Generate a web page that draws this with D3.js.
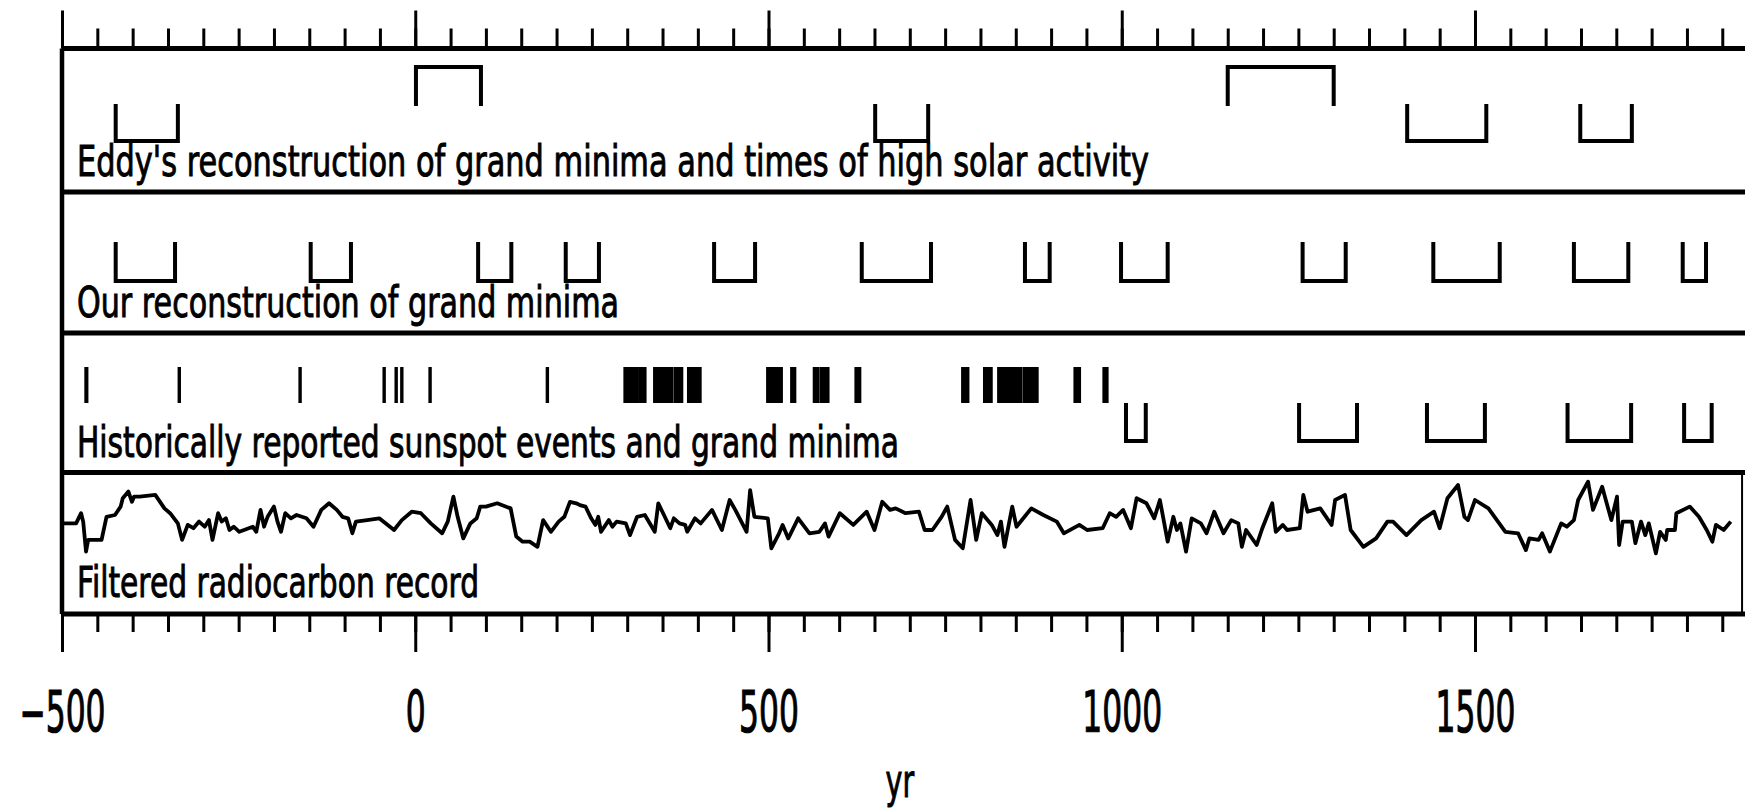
<!DOCTYPE html>
<html>
<head>
<meta charset="utf-8">
<script src="https://cdn.jsdelivr.net/npm/d3@7"></script>
<style>
  body { margin: 0; background: #fff; }
  svg { display: block; }
  text { font-family: "DejaVu Sans", sans-serif; fill: #000; }
</style>
</head>
<body>
<svg id="chart"></svg>
<script>
// Canvas size, same as the reference picture
const width = 1745;
const height = 810;

// ---- data (years) ----
// Eddy's grand minima (open upward) and times of high activity (open downward)
const eddyMinima = [[-424, -336], [651, 726], [1404, 1516], [1649, 1722]];
const eddyMaxima = [[1, 93], [1150, 1300]];

// Our reconstruction of grand minima
const ourMinima = [[-424, -340], [-148, -91], [89, 136], [213, 260], [423, 481], [632, 730],
  [863, 898], [999, 1065], [1256, 1317], [1441, 1535], [1640, 1717], [1794, 1827]];

// Historically reported sunspot events (year spans) and grand minima
const sunspotEvents = [[-466, -465], [-334, -334], [-163, -163], [-44, -44], [-27, -27], [-19, -19],
  [21, 21], [187, 187], [297, 314], [318, 325], [339, 363], [368, 377], [387, 403], [499, 518],
  [533, 537], [565, 566], [569, 570], [575, 584], [624, 629], [775, 778], [780, 782], [806, 808],
  [811, 815], [826, 848], [852, 857], [862, 872], [874, 880], [934, 940], [975, 979]];
const historicalMinima = [[1006, 1034], [1251, 1333], [1432, 1514], [1631, 1721], [1796, 1835]];

// Filtered radiocarbon record: [year, value] (arbitrary units)
const radiocarbon = [
  [-498,-2.8],[-480,-2.8],[-473,0.6],[-470,-2.2],[-466,-12.2],[-463,-8.3],[-444,-8.3],[-437,-0.6],
  [-425,0],[-417,2.8],[-414,5.6],[-406,7.8],[-401,4.4],[-398,6.1],[-390,6.1],[-368,6.7],[-355,2.2],
  [-347,0.6],[-336,-2.8],[-330,-8.3],[-322,-3.3],[-314,-4.4],[-306,-2.2],[-298,-3.9],[-292,-1.7],
  [-287,-8.3],[-279,0.6],[-274,-2.2],[-268,-1.1],[-263,-5],[-257,-3.9],[-249,-5.6],[-230,-3.9],
  [-225,-5.6],[-219,1.7],[-214,-3.9],[-209,-0.6],[-200,2.8],[-195,-2.2],[-190,-5.6],[-184,0.6],
  [-176,-1.1],[-168,0],[-154,-1.1],[-144,-3.9],[-133,1.7],[-122,3.9],[-111,1.7],[-103,-0.6],
  [-95,-1.1],[-89,-6.1],[-84,-2.2],[-68,-1.7],[-51,-1.1],[-30,-5],[-19,-1.7],[-5,1.1],[8,0.6],
  [22,-2.8],[38,-6.1],[46,-2.2],[54,6.1],[60,-0.6],[68,-7.8],[78,-2.8],[87,-1.1],[92,2.8],[100,2.8],
  [116,3.9],[135,2.2],[143,-7.2],[152,-8.9],[162,-8.9],[173,-10.6],[181,-1.7],[192,-5.6],[203,-2.2],
  [211,-0.6],[219,4.4],[228,3.9],[233,3.3],[241,2.8],[249,-1.1],[255,-3.3],[259,-0.6],[263,-5.6],
  [274,-1.7],[279,-3.9],[285,-2.2],[298,-2.8],[304,-6.7],[314,-0.6],[325,0],[339,-5.6],[344,3.9],
  [352,0],[361,-4.4],[366,-1.1],[374,-2.8],[382,-3.3],[385,-5.6],[396,-1.1],[404,-2.8],[420,1.7],
  [434,-5],[445,5],[453,1.7],[469,-5.6],[474,8.3],[480,-0.6],[499,-1.1],[504,-11.1],[515,-6.1],
  [520,-3.3],[528,-7.8],[542,-1.1],[558,-6.1],[572,-5.6],[580,-2.8],[585,-7.2],[601,0.6],[620,-3.3],
  [639,1.1],[650,-5],[661,4.4],[672,1.7],[680,2.2],[694,0.6],[713,1.1],[721,-5],[732,-5],[745,-0.6],
  [753,2.8],[764,-8.3],[775,-11.1],[786,5],[794,-8.3],[802,0.6],[816,-3.3],[824,-6.7],[829,-2.2],
  [834,-10.6],[845,2.8],[851,-3.9],[872,2.2],[889,0],[908,-2.2],[918,-6.1],[940,-3.3],[951,-5],
  [973,-4.4],[983,0.6],[992,-0.6],[1002,1.7],[1013,-4.4],[1021,5.6],[1035,3.9],[1046,-1.1],[1054,5],
  [1065,-8.9],[1073,-0.6],[1078,-5],[1083,-2.8],[1091,-12.2],[1099,-1.1],[1112,-2.8],[1120,-6.1],
  [1131,1.1],[1144,-6.1],[1155,-1.7],[1165,-2.8],[1170,-10.6],[1176,-5],[1191,-10],[1199,-4.4],
  [1213,3.9],[1218,-5.6],[1228,-3.3],[1234,-5],[1252,-4.4],[1257,6.7],[1263,1.1],[1281,2.2],
  [1297,-3.3],[1302,5],[1316,6.7],[1324,-5],[1342,-10.6],[1360,-7.8],[1376,-2.2],[1384,-2.2],
  [1403,-6.7],[1424,-1.7],[1442,1.1],[1450,-4.4],[1461,5.6],[1476,10],[1485,-0.6],[1490,-1.7],
  [1500,5],[1519,2.2],[1543,-5.6],[1561,-6.1],[1572,-11.7],[1577,-7.8],[1590,-8.3],[1595,-6.1],
  [1606,-12.2],[1622,-2.8],[1630,-3.9],[1640,-1.7],[1646,5],[1660,11.1],[1667,1.7],[1680,9.4],
  [1693,-1.7],[1701,6.1],[1704,-10],[1709,-2.2],[1722,-2.2],[1727,-9.4],[1735,-2.2],[1741,-6.7],
  [1746,-2.8],[1756,-12.8],[1762,-5.6],[1770,-8.3],[1772,-5],[1783,-5],[1785,0.6],[1804,2.8],
  [1817,-0.6],[1828,-5],[1836,-8.9],[1841,-3.3],[1852,-5],[1862,-2.2]
];
const recordEnd = 1878; // right frame of the radiocarbon panel

// Axis ticks
const majorTicks = [-500, 0, 500, 1000, 1500];
const minorTicks = d3.range(-500, 1901, 50);

// Panel labels
const panelLabels = [
  "Eddy's reconstruction of grand minima and times of high solar activity",
  "Our reconstruction of grand minima",
  "Historically reported sunspot events and grand minima",
  "Filtered radiocarbon record"
];
const labelWidths = [1072, 542, 822, 402];
const labelBaselines = [176, 317, 457, 597];

// Horizontal rules: top axis, panel separators, bottom axis
const rules = [48.5, 192, 333, 472.5, 614];

const svg = d3.select("#chart")
    .attr("width", width)
    .attr("height", height);

// Year scale
const x = d3.scaleLinear()
    .domain([-500, 1900])
    .range([62, 1757.6]);

// Radiocarbon value scale (inside the bottom panel)
const y = d3.scaleLinear()
    .domain([-32, 15])
    .range([611, 470]);

// Horizontal rules and left border
svg.selectAll(".rule")
    .data(rules)
    .enter()
    .append("line")
    .attr("class", "rule")
    .attr("x1", x(-500))
    .attr("x2", x(1900))
    .attr("y1", d => d)
    .attr("y2", d => d)
    .attr("stroke", "#000")
    .attr("stroke-width", 5);

svg.append("line")
    .attr("x1", x(-500)).attr("x2", x(-500))
    .attr("y1", rules[0]).attr("y2", rules[4])
    .attr("stroke", "#000")
    .attr("stroke-width", 4.5);

// right frame of the radiocarbon panel
svg.append("line")
    .attr("x1", x(recordEnd)).attr("x2", x(recordEnd))
    .attr("y1", rules[3]).attr("y2", rules[4])
    .attr("stroke", "#000")
    .attr("stroke-width", 2);

// Axes: minor and major ticks on top and bottom
function styleTicks(g) {
    g.select(".domain").remove();
    g.selectAll(".tick line").attr("stroke", "#000").attr("stroke-width", 3);
}

svg.append("g")
    .attr("transform", `translate(0,${rules[0]})`)
    .call(d3.axisTop(x).tickValues(minorTicks).tickSize(20).tickFormat(""))
    .call(styleTicks);

svg.append("g")
    .attr("transform", `translate(0,${rules[0]})`)
    .call(d3.axisTop(x).tickValues(majorTicks).tickSize(38).tickFormat(""))
    .call(styleTicks);

svg.append("g")
    .attr("transform", `translate(0,${rules[4]})`)
    .call(d3.axisBottom(x).tickValues(minorTicks).tickSize(18).tickFormat(""))
    .call(styleTicks);

const bottomMajor = svg.append("g")
    .attr("transform", `translate(0,${rules[4]})`)
    .call(d3.axisBottom(x).tickValues(majorTicks).tickSize(38).tickFormat(d3.format("d")))
    .call(styleTicks);

bottomMajor.selectAll(".tick text")
    .attr("y", 118)
    .attr("dy", 0)
    .attr("fill", "#000")
    .attr("stroke", "#000")
    .attr("stroke-width", 1.2)
    .style("font-family", "'DejaVu Sans', sans-serif")
    .style("font-size", "57px")
    .attr("transform", "scale(0.55,1)");

// Axis title
svg.append("g")
    .attr("transform", `translate(${x(686)},797)`)
    .append("text")
    .attr("text-anchor", "middle")
    .attr("transform", "scale(0.62,1)")
    .attr("stroke", "#000")
    .attr("stroke-width", 1)
    .style("font-size", "46px")
    .text("yr");

// Panel labels
svg.selectAll(".panel-label")
    .data(panelLabels)
    .enter()
    .append("text")
    .attr("class", "panel-label")
    .attr("x", 77)
    .attr("y", (d, i) => labelBaselines[i])
    .attr("textLength", (d, i) => labelWidths[i])
    .attr("lengthAdjust", "spacingAndGlyphs")
    .attr("stroke", "#000")
    .attr("stroke-width", 1)
    .style("font-size", "42px")
    .text(d => d);

// Bracket helpers
function minimumPath(d, top, bottom) {
    return `M${x(d[0])},${top}V${bottom}H${x(d[1])}V${top}`;
}
function maximumPath(d, top, bottom) {
    return `M${x(d[0])},${bottom}V${top}H${x(d[1])}V${bottom}`;
}
function drawBrackets(data, cls, pathFn, top, bottom) {
    svg.selectAll("." + cls)
        .data(data)
        .enter()
        .append("path")
        .attr("class", cls)
        .attr("d", d => pathFn(d, top, bottom))
        .attr("fill", "none")
        .attr("stroke", "#000")
        .attr("stroke-width", 4)
        .attr("stroke-linejoin", "miter");
}

drawBrackets(eddyMinima, "eddy-min", minimumPath, 104, 141);
drawBrackets(eddyMaxima, "eddy-max", maximumPath, 67, 106);
drawBrackets(ourMinima, "our-min", minimumPath, 242, 281);
drawBrackets(historicalMinima, "hist-min", minimumPath, 403, 441);

// Sunspot events as vertical bars
svg.selectAll(".sunspot")
    .data(sunspotEvents)
    .enter()
    .append("rect")
    .attr("class", "sunspot")
    .attr("x", d => x(d[0]) - 1.7)
    .attr("y", 367)
    .attr("width", d => Math.max(x(d[1]) - x(d[0]), 0) + 3.4)
    .attr("height", 36)
    .attr("fill", "#000");

// Radiocarbon curve
const line = d3.line()
    .x(d => x(d[0]))
    .y(d => y(d[1]));

svg.append("path")
    .datum(radiocarbon)
    .attr("d", line)
    .attr("fill", "none")
    .attr("stroke", "#000")
    .attr("stroke-width", 3.8)
    .attr("stroke-linejoin", "round");
</script>
</body>
</html>
